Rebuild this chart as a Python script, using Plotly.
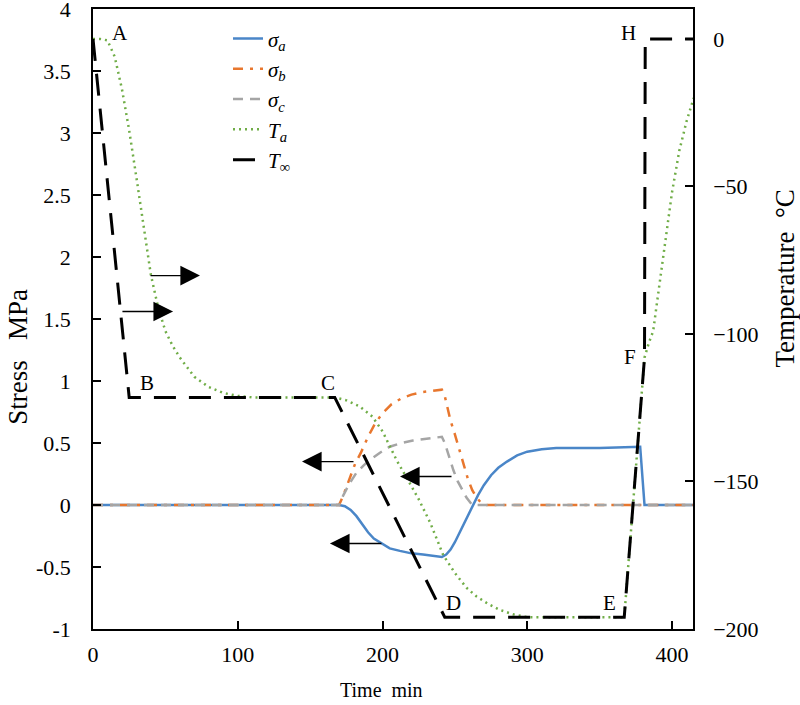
import plotly.graph_objects as go

# time (min) / stress (MPa)
t_sa = [0, 170, 174, 178, 182, 186, 190, 194, 198, 205, 212, 220, 228, 236, 241, 244, 247, 250,
        253, 256, 259, 262, 266, 270, 275, 280, 286, 293, 300, 310, 320, 335, 350, 378, 381, 415]
sa = [0, 0, -0.01, -0.04, -0.09, -0.16, -0.22, -0.27, -0.30, -0.35, -0.37, -0.39, -0.40, -0.41,
      -0.42, -0.40, -0.36, -0.30, -0.23, -0.16, -0.08, -0.01, 0.08, 0.16, 0.24, 0.30, 0.35, 0.40,
      0.43, 0.45, 0.46, 0.46, 0.46, 0.47, 0.0, 0.0]

t_sb = [0, 170, 173, 177, 181, 185, 190, 195, 200, 206, 213, 220, 227, 234, 241, 243, 245, 247,
        250, 253, 256, 259, 262, 265, 268, 272, 415]
sb = [0, 0, 0.08, 0.2, 0.33, 0.42, 0.55, 0.66, 0.74, 0.81, 0.86, 0.89, 0.91, 0.92, 0.93, 0.88,
      0.78, 0.68, 0.57, 0.46, 0.33, 0.21, 0.12, 0.06, 0.02, 0, 0]

t_sc = [0, 170, 173, 177, 182, 187, 192, 198, 205, 213, 221, 228, 235, 241, 243, 245, 247, 249,
        252, 255, 258, 262, 415]
sc = [0, 0, 0.08, 0.17, 0.26, 0.32, 0.37, 0.42, 0.47, 0.50, 0.52, 0.53, 0.54, 0.55, 0.50, 0.42,
      0.35, 0.28, 0.19, 0.12, 0.06, 0, 0]

# temperatures (degC)
t_ta = [0, 5, 10, 15, 20, 25, 30, 35, 40, 45, 50, 55, 60, 70, 80, 90, 100, 110, 167, 175, 184,
        193, 200, 205, 210, 217, 225, 233, 242, 250, 258, 265, 273, 281, 290, 300, 310, 367, 374,
        381, 384, 387, 390, 395, 400, 405, 410, 415]
ta = [0, 0, -0.5, -6, -17, -31, -47, -64, -80, -91, -99, -104, -108, -114.5, -118, -120, -121,
      -121.5, -121.5, -122.5, -124.5, -128, -133, -138, -143, -149, -156, -164, -175, -181, -186,
      -189, -191.5, -193.5, -195, -196, -196, -196, -152, -108, -103, -99, -88, -70, -52, -38,
      -28, -20]

t_tinf = [0, 25, 167, 243, 367, 381, 381.5, 415]
tinf = [0, -121.5, -121.5, -196, -196, -108, 0, 0]

# point labels (time, stress)
lbl_text = ["A", "B", "C", "D", "E", "F", "H"]
lbl_t = [18.7, 37, 162, 249, 357, 371, 370]
lbl_s = [3.81, 0.98, 0.98, -0.79, -0.79, 1.19, 3.81]

# arrows: tip (time, stress) and tail time
arr_tip = [73.9, 55.3, 144.4, 212.1, 163.7]
arr_tail = [38.7, 19.3, 181.0, 248.7, 200.3]
arr_s = [1.85, 1.56, 0.35, 0.23, -0.31]

serif = "Liberation Serif, Times New Roman, serif"

fig = go.Figure()
fig.add_trace(go.Scatter(x=t_sa, y=sa, mode="lines", name="<i>σ<sub>a</sub></i>",
                         line=dict(color="#4a86c8", width=2.5)))
fig.add_trace(go.Scatter(x=t_sb, y=sb, mode="lines", name="<i>σ<sub>b</sub></i>",
                         line=dict(color="#e8772e", width=2.5, dash="10px,7px,3px,7px")))
fig.add_trace(go.Scatter(x=t_sc, y=sc, mode="lines", name="<i>σ<sub>c</sub></i>",
                         line=dict(color="#a5a5a5", width=2.5, dash="10px,7px")))
fig.add_trace(go.Scatter(x=t_ta, y=ta, mode="lines", name="<i>T<sub>a</sub></i>", yaxis="y2",
                         line=dict(color="#70ad47", width=2.5, dash="2px,4px")))
fig.add_trace(go.Scatter(x=t_tinf, y=tinf, mode="lines", name="<i>T</i><sub>∞</sub>", yaxis="y2",
                         line=dict(color="black", width=3, dash="22px,13px")))

for txt, x, y in zip(lbl_text, lbl_t, lbl_s):
    fig.add_annotation(x=x, y=y, text=txt, showarrow=False,
                       font=dict(family=serif, size=21, color="black"))

for tip, tail, y in zip(arr_tip, arr_tail, arr_s):
    fig.add_annotation(x=tip, y=y, ax=tail, ay=y, axref="x", ayref="y", text="",
                       showarrow=True, arrowhead=2, arrowsize=2.8, arrowwidth=1.4,
                       arrowcolor="black", standoff=0, startstandoff=0)

# axis titles
title_font = dict(family=serif, size=27, color="black")
fig.add_annotation(x=-0.125, y=0.439, xref="paper", yref="paper", text="Stress   MPa",
                   textangle=-90, showarrow=False, xanchor="center", yanchor="middle",
                   font=title_font)
fig.add_annotation(x=1.153, y=0.565, xref="paper", yref="paper", text="Temperature  °C",
                   textangle=-90, showarrow=False, xanchor="center", yanchor="middle",
                   font=title_font)
fig.add_annotation(x=0.48, y=-0.098, xref="paper", yref="paper", text="Time  min",
                   showarrow=False, xanchor="center", yanchor="middle",
                   font=dict(family=serif, size=20, color="black"))

axis_style = dict(showgrid=False, zeroline=False, showline=True, linecolor="black", linewidth=1.5,
                  ticks="inside", ticklen=8, tickcolor="black", tickwidth=1.5, automargin=False,
                  ticklabeloverflow="allow",
                  tickfont=dict(family=serif, size=22, color="black"))

fig.update_layout(
    width=800, height=705,
    margin=dict(l=93, r=107, t=9, b=76),
    paper_bgcolor="white", plot_bgcolor="white",
    xaxis=dict(range=[0, 414.5], tickvals=[0, 100, 200, 300, 400], mirror=True,
               ticklabelstandoff=5, **axis_style),
    yaxis=dict(range=[-1, 4], tickvals=[-1, -0.5, 0, 0.5, 1, 1.5, 2, 2.5, 3, 3.5, 4],
               ticktext=["-1", "-0.5", "0", "0.5", "1", "1.5", "2", "2.5", "3", "3.5", "4"],
               ticklabelstandoff=16, **axis_style),
    yaxis2=dict(range=[-200, 10.15], tickvals=[-200, -150, -100, -50, 0], overlaying="y",
                side="right", ticklabelstandoff=14, **axis_style),
    legend=dict(x=0.225, y=0.985, xanchor="left", yanchor="top", bgcolor="rgba(0,0,0,0)",
                font=dict(family=serif, size=21, color="black")),
)

fig.write_html("out.html", config={"displayModeBar": False},
               post_script="document.body.style.margin='0';")
